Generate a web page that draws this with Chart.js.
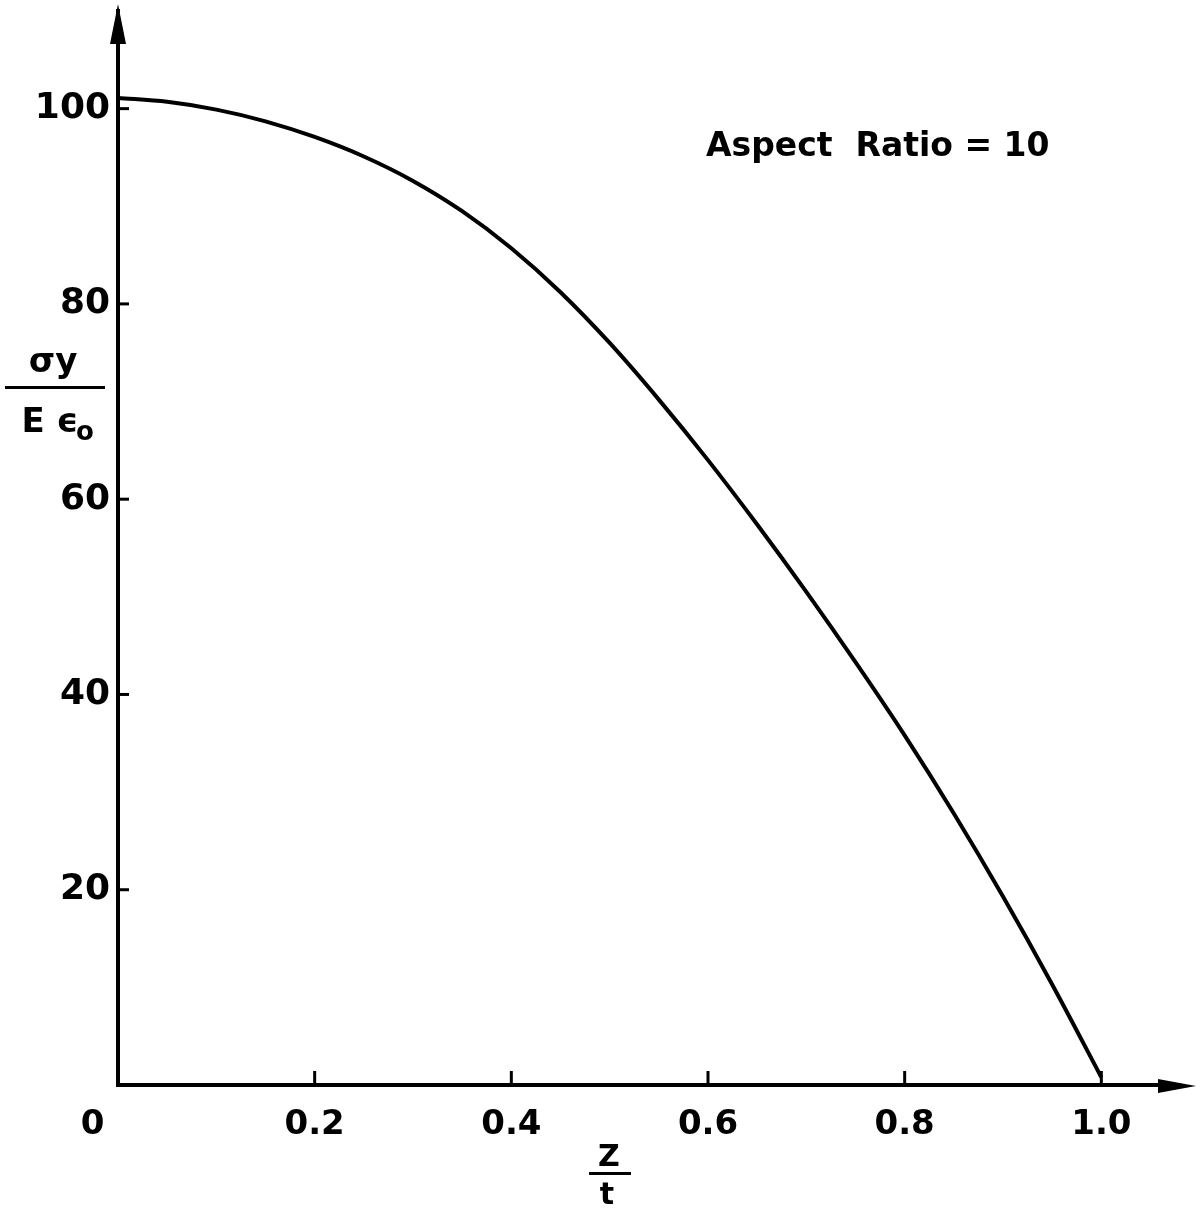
<!DOCTYPE html>
<html>
<head>
<meta charset="utf-8">
<script src="https://cdn.jsdelivr.net/npm/chart.js@4/dist/chart.umd.min.js"></script>
<style>
  html, body { margin: 0; padding: 0; background: #fff; }
  #wrap { width: 1203px; height: 1209px; }
</style>
</head>
<body>
<div id="wrap"><canvas id="c" width="1203" height="1209"></canvas></div>
<script>
// 曲線は図から目で読み取った値 (Z/t, σy/Eε0)
const zValues = [0, 0.05, 0.1, 0.15, 0.2, 0.25, 0.3, 0.35, 0.4, 0.45, 0.5,
  0.55, 0.6, 0.65, 0.7, 0.75, 0.8, 0.85, 0.9, 0.95, 1.0];
const stressValues = [101.1, 100.7, 99.9, 98.7, 97.1, 95.1, 92.6, 89.5, 85.7, 81.2, 76.0,
  70.2, 64.0, 57.4, 50.5, 43.3, 35.8, 27.8, 19.3, 10.3, 0.8];
const xTickValues = [0, 0.2, 0.4, 0.6, 0.8, 1.0];
const xTickLabels = ['0\u2003\u2002', '0.2', '0.4', '0.6', '0.8', '1.0'];
const yTickValues = [20, 40, 60, 80, 100];

const FONT = '"DejaVu Sans", sans-serif';
const INK = '#000';

const points = zValues.map((z, i) => ({ x: z, y: stressValues[i] }));

// 軸の矢印・内向き目盛り・軸タイトル・注記
const decor = {
  id: 'decor',
  afterDraw(chart) {
    const { ctx, chartArea: a, scales: { x, y } } = chart;
    ctx.save();
    ctx.fillStyle = INK;
    ctx.strokeStyle = INK;
    ctx.lineWidth = 3;

    // y 軸の矢印
    ctx.beginPath();
    ctx.moveTo(a.left, 4);
    ctx.lineTo(a.left - 8, 44);
    ctx.lineTo(a.left + 8, 44);
    ctx.closePath();
    ctx.fill();
    ctx.beginPath();
    ctx.moveTo(a.left, 10);
    ctx.lineTo(a.left, a.top);
    ctx.stroke();

    // x 軸の矢印
    ctx.beginPath();
    ctx.moveTo(1196, a.bottom + 1);
    ctx.lineTo(1158, a.bottom - 6);
    ctx.lineTo(1158, a.bottom + 8);
    ctx.closePath();
    ctx.fill();
    ctx.beginPath();
    ctx.moveTo(a.right, a.bottom);
    ctx.lineTo(1165, a.bottom);
    ctx.stroke();

    // 内向きの目盛り
    for (const v of xTickValues.slice(1)) {
      const px = x.getPixelForValue(v);
      ctx.beginPath();
      ctx.moveTo(px, a.bottom);
      ctx.lineTo(px, a.bottom - 14);
      ctx.stroke();
    }
    for (const v of yTickValues) {
      const py = y.getPixelForValue(v);
      ctx.beginPath();
      ctx.moveTo(a.left, py);
      ctx.lineTo(a.left + 11, py);
      ctx.stroke();
    }

    // y 軸タイトル σy / Eε0
    ctx.textAlign = 'center';
    ctx.textBaseline = 'alphabetic';
    ctx.font = 'bold 34px ' + FONT;
    ctx.fillText('σy', 53, 372);
    ctx.fillRect(5, 386, 100, 3);
    ctx.fillText('E ϵ', 50, 432);
    ctx.font = 'bold 26px ' + FONT;
    ctx.fillText('o', 85, 440);

    // x 軸タイトル Z / t
    ctx.font = 'bold 30px ' + FONT;
    ctx.fillText('Z', 609, 1166);
    ctx.fillRect(589, 1172, 42, 3);
    ctx.fillText('t', 607, 1204);

    // 注記
    ctx.textAlign = 'left';
    ctx.font = 'bold 33px ' + FONT;
    ctx.fillText('Aspect  Ratio = 10', 706, 156);
    ctx.restore();
  },
};

new Chart(document.getElementById('c').getContext('2d'), {
  type: 'scatter',
  data: {
    datasets: [{
      data: points,
      showLine: true,
      borderColor: INK,
      borderWidth: 4,
      pointRadius: 0,
      cubicInterpolationMode: 'monotone',
      fill: false,
    }],
  },
  options: {
    responsive: false,
    animation: false,
    events: [],
    layout: { padding: { top: 11, right: 23, left: 0, bottom: 0 } },
    plugins: { legend: { display: false }, tooltip: { enabled: false } },
    scales: {
      x: {
        type: 'linear',
        min: 0,
        max: 1.08,
        afterFit: (s) => { s.height = 124; },
        afterBuildTicks: (s) => { s.ticks = xTickValues.map((v) => ({ value: v })); },
        grid: { display: false, drawTicks: false },
        border: { display: true, color: INK, width: 4 },
        ticks: {
          color: INK,
          padding: 20,
          font: { family: FONT, size: 34, weight: 'bold' },
          callback: (v) => {
            const i = xTickValues.findIndex((t) => Math.abs(t - v) < 1e-6);
            return i >= 0 ? xTickLabels[i] : '';
          },
        },
      },
      y: {
        type: 'linear',
        min: 0,
        max: 110,
        afterFit: (s) => { s.width = 118; s.paddingTop = 0; s.paddingBottom = 0; },
        afterBuildTicks: (s) => { s.ticks = yTickValues.map((v) => ({ value: v })); },
        grid: { display: false, drawTicks: false },
        border: { display: true, color: INK, width: 4 },
        ticks: {
          color: INK,
          padding: 8,
          font: { family: FONT, size: 36, weight: 'bold' },
          callback: (v) => String(v),
        },
      },
    },
  },
  plugins: [decor],
});
</script>
</body>
</html>
